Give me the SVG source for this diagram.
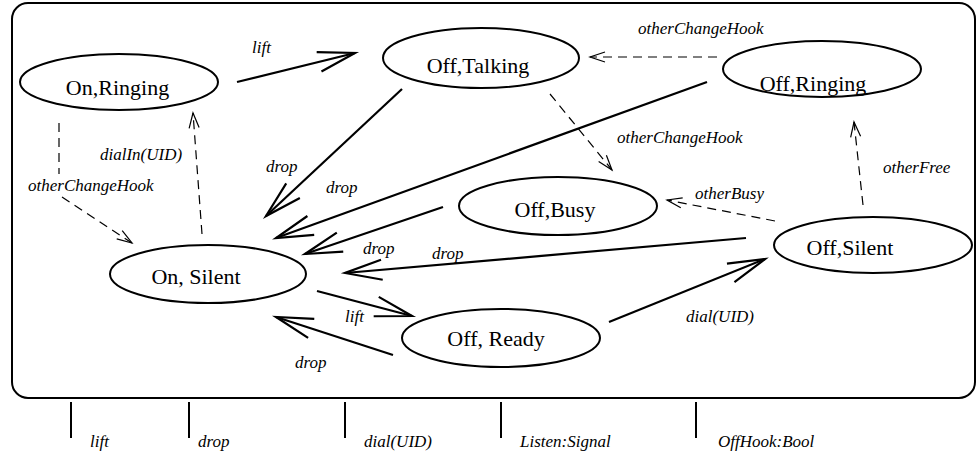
<svg xmlns="http://www.w3.org/2000/svg" width="979" height="455" viewBox="0 0 979 455" font-family="'Liberation Serif', 'Liberation Sans', sans-serif">
<style>
.frame{fill:none;stroke:#000;stroke-width:2}
.node ellipse{fill:#fff;stroke:#000;stroke-width:2}
.node text{font-size:22px;text-anchor:middle;fill:#000}
.lbl{font-size:17px;font-style:italic;fill:#000}
.solid{fill:none;stroke:#000;stroke-width:2.2;marker-end:url(#big)}
.dash{fill:none;stroke:#000;stroke-width:1.2;stroke-dasharray:9 6;marker-end:url(#small)}
.tick{stroke:#000;stroke-width:2}
</style>
<defs>
<marker id="big" markerUnits="userSpaceOnUse" markerWidth="50" markerHeight="30" refX="0" refY="0" orient="auto" overflow="visible">
<path d="M-37,-10 L0,0 L-37,10" fill="none" stroke="#000" stroke-width="2.2" stroke-dasharray="none"/>
</marker>
<marker id="small" markerUnits="userSpaceOnUse" markerWidth="30" markerHeight="20" refX="0" refY="0" orient="auto" overflow="visible">
<path d="M-15,-5 L0,0 L-15,5" fill="none" stroke="#000" stroke-width="1.2" stroke-dasharray="none"/>
</marker>
</defs>
<rect class="frame" x="12" y="3" width="963" height="395" rx="16" ry="16"/>
<g id="connectors">
<path class="solid" d="M237,82 L355,53"/>
<path class="solid" d="M402,89 L266,216"/>
<path class="solid" d="M707,82 L276,238"/>
<path class="solid" d="M443,207 L305,254"/>
<path class="solid" d="M746,238 L345,273"/>
<path class="solid" d="M317,291 L412,316"/>
<path class="solid" d="M393,355 L276,317"/>
<path class="solid" d="M609,322 L765,259"/>
<path class="dash" d="M59,123 V174 M62,197 L132,243"/>
<path class="dash" d="M202,234 L193,113"/>
<path class="dash" d="M717,57 L590,57"/>
<path class="dash" d="M550,94 L612,170"/>
<path class="dash" d="M863,205 L854,122"/>
<path class="dash" d="M775,221 L667,200"/>
<text class="lbl" x="252" y="53">lift</text>
<text class="lbl" x="100" y="160">dialIn(UID)</text>
<text class="lbl" x="266" y="172">drop</text>
<text class="lbl" x="28" y="191">otherChangeHook</text>
<text class="lbl" x="326" y="193">drop</text>
<text class="lbl" x="638" y="34">otherChangeHook</text>
<text class="lbl" x="617" y="143">otherChangeHook</text>
<text class="lbl" x="883" y="173">otherFree</text>
<text class="lbl" x="695" y="199">otherBusy</text>
<text class="lbl" x="363" y="254">drop</text>
<text class="lbl" x="432" y="259">drop</text>
<text class="lbl" x="345" y="322">lift</text>
<text class="lbl" x="295" y="368">drop</text>
<text class="lbl" x="686" y="322">dial(UID)</text>
</g>
<g id="on-ringing" class="node"><ellipse cx="119" cy="82" rx="99" ry="28"/><text x="117.5" y="95">On,Ringing</text></g>
<g id="off-talking" class="node"><ellipse cx="481" cy="58" rx="98" ry="30"/><text x="478" y="73">Off,Talking</text></g>
<g id="off-ringing" class="node"><ellipse cx="822" cy="69" rx="99" ry="28"/><text x="813" y="91">Off,Ringing</text></g>
<g id="off-busy" class="node"><ellipse cx="558" cy="206" rx="99" ry="29"/><text x="555" y="217">Off,Busy</text></g>
<g id="off-silent" class="node"><ellipse cx="873" cy="245" rx="99" ry="28"/><text x="850" y="255">Off,Silent</text></g>
<g id="on-silent" class="node"><ellipse cx="208" cy="274" rx="98" ry="29"/><text x="196" y="284">On, Silent</text></g>
<g id="off-ready" class="node"><ellipse cx="501" cy="338" rx="99" ry="29"/><text x="496" y="346">Off, Ready</text></g>
<g id="ports">
<line class="tick" x1="71" y1="402" x2="71" y2="438"/>
<line class="tick" x1="189" y1="402" x2="189" y2="438"/>
<line class="tick" x1="345" y1="402" x2="345" y2="438"/>
<line class="tick" x1="501" y1="402" x2="501" y2="438"/>
<line class="tick" x1="696" y1="402" x2="696" y2="438"/>
<text class="lbl" x="90" y="447">lift</text>
<text class="lbl" x="198" y="447">drop</text>
<text class="lbl" x="364" y="447">dial(UID)</text>
<text class="lbl" x="520" y="447">Listen:Signal</text>
<text class="lbl" x="718" y="447">OffHook:Bool</text>
</g>
</svg>
